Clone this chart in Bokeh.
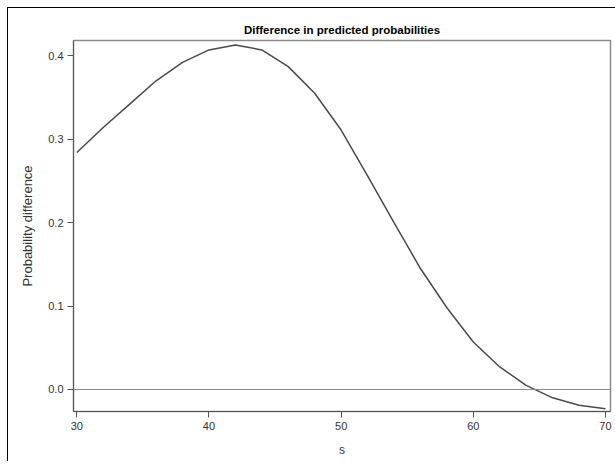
from bokeh.plotting import figure
from bokeh.models import Span, Range1d, FixedTicker, CustomJSTickFormatter
from bokeh.embed import file_html
from bokeh.resources import INLINE

s_values = [30, 32, 34, 36, 38, 40, 42, 44, 46, 48, 50, 52, 54, 56, 58, 60, 62, 64, 66, 68, 70]
prob_diff = [0.284, 0.314, 0.342, 0.370, 0.392, 0.407, 0.413, 0.407, 0.387, 0.355, 0.311,
             0.256, 0.200, 0.145, 0.098, 0.057, 0.027, 0.005, -0.010, -0.019, -0.023]
x_ticks = [30, 40, 50, 60, 70]
y_ticks = [0.0, 0.1, 0.2, 0.3, 0.4]

FONT = "Liberation Sans"

p = figure(frame_width=537, frame_height=371, min_border_left=65, min_border_right=5,
           min_border_top=32, min_border_bottom=50,
           output_backend="svg", toolbar_location=None,
           x_range=Range1d(29.75, 70.38), y_range=Range1d(-0.0264, 0.4183),
           title="Difference in predicted probabilities")

p.margin = (7, 0, 0, 7)
p.styles = {"border-left": "1px solid #000000", "border-top": "1px solid #000000"}

p.title.align = "center"
p.title.text_font = FONT
p.title.text_font_size = "11.5px"
p.title.text_font_style = "bold"
p.title.text_color = "#000000"
p.title.offset = 0

p.line(s_values, prob_diff, line_color="#4a4a4a", line_width=1.5)
p.add_layout(Span(location=0, dimension="width", line_color="#8a8a8a", line_width=1))

p.xgrid.visible = False
p.ygrid.visible = False
p.outline_line_color = "#8a8a8a"
p.outline_line_width = 1.5

for ax in (p.xaxis[0], p.yaxis[0]):
    ax.axis_line_color = "#555555"
    ax.major_tick_line_color = "#555555"
    ax.major_tick_out = 6
    ax.major_tick_in = 0
    ax.minor_tick_line_color = None
    ax.major_label_text_font = FONT
    ax.major_label_text_font_size = "11px"
    ax.major_label_text_color = "#333333"
    ax.axis_label_text_font = FONT
    ax.axis_label_text_font_style = "normal"
    ax.axis_label_text_color = "#333333"

p.xaxis.axis_label_text_font_size = "12px"
p.yaxis.axis_label_text_font_size = "13px"
p.xaxis.ticker = FixedTicker(ticks=x_ticks)
p.yaxis.ticker = FixedTicker(ticks=y_ticks)
p.yaxis.formatter = CustomJSTickFormatter(code="return tick.toFixed(1);")
p.xaxis.axis_label = "s"
p.yaxis.axis_label = "Probability difference"
p.xaxis.major_label_standoff = 4
p.yaxis.major_label_standoff = 4
p.xaxis.axis_label_standoff = 10
p.yaxis.axis_label_standoff = 10

open("out.html", "w").write(file_html(p, INLINE))
